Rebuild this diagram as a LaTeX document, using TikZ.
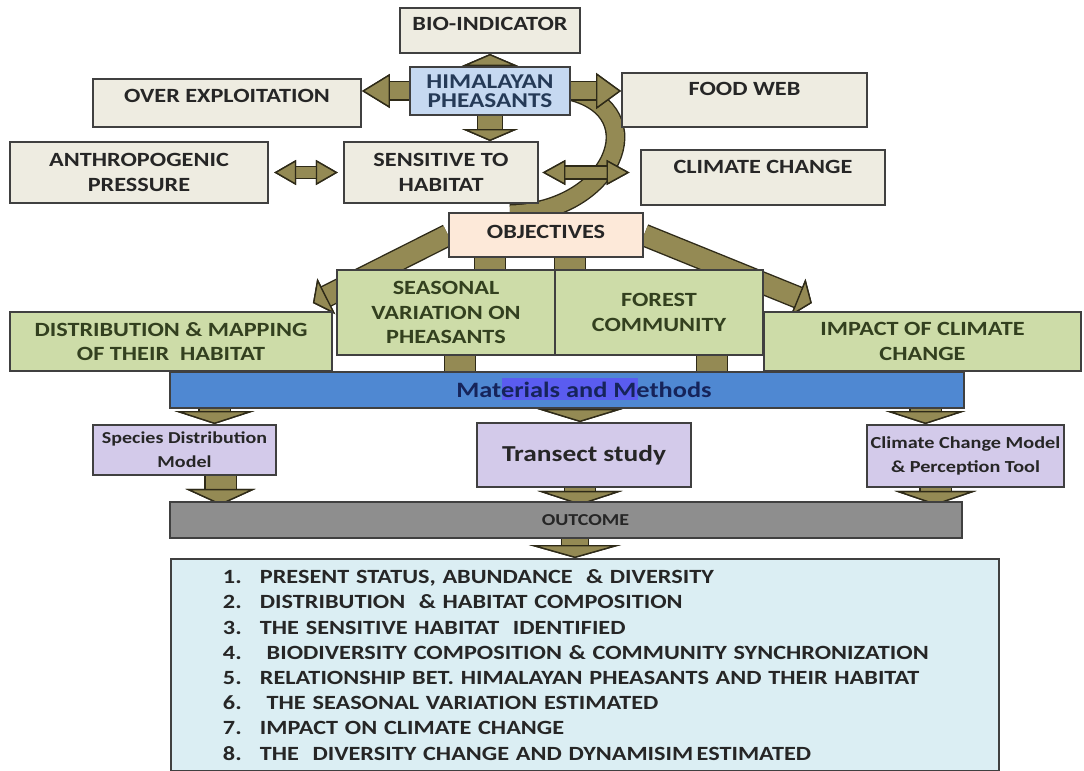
\documentclass[tikz,border=0pt]{standalone}
\usepackage{fontspec}
\setmainfont{Carlito}[FakeStretch=1.2]
\usetikzlibrary{arrows.meta,calc,backgrounds}

\definecolor{tanfill}{HTML}{EEECE1}
\definecolor{boxline}{HTML}{404040}
\definecolor{ink}{HTML}{262626}
\definecolor{hpfill}{HTML}{C6D9F1}
\definecolor{hpink}{HTML}{253A57}
\definecolor{objfill}{HTML}{FDE9D9}
\definecolor{grnfill}{HTML}{CDDCA8}
\definecolor{grnink}{HTML}{33401F}
\definecolor{mmfill}{HTML}{4F88D2}
\definecolor{mmink}{HTML}{16245A}
\definecolor{hilite}{HTML}{5A5CF0}
\definecolor{lavfill}{HTML}{D3CAEA}
\definecolor{outfill}{HTML}{8E8E8E}
\definecolor{listfill}{HTML}{DBEEF3}
\definecolor{olivefill}{HTML}{948A54}
\definecolor{oliveline}{HTML}{2E2A18}

\tikzset{
  box/.style={draw=boxline, line width=1.1pt, fill=tanfill, text=ink, align=center,
    inner sep=1pt, font=\bfseries\fontsize{11.5}{14}\selectfont},
  pipe/.style={draw=olivefill, line width=#1,
    preaction={draw=oliveline, line width=#1+1.6pt}},
  ahead/.style 2 args={-{Triangle[width=#1, length=#2, fill=olivefill,
    color=oliveline, line width=0.8pt]}},
  bhead/.style 2 args={{Triangle[width=#1, length=#2, fill=olivefill,
    color=oliveline, line width=0.8pt]}-{Triangle[width=#1, length=#2,
    fill=olivefill, color=oliveline, line width=0.8pt]}},
}

\begin{document}
\begin{tikzpicture}[x=0.02cm, y=-0.02cm]
\useasboundingbox (0,0) rectangle (1084,770);

% top cluster
\node[box, minimum width=3.6cm, minimum height=0.9cm, text depth=0.28cm] (bio) at (490,30.5) {BIO-INDICATOR};
\node[box, fill=hpfill, text=hpink, minimum width=3.2cm, minimum height=0.96cm,
  font=\bfseries\fontsize{12}{11}\selectfont] (hp) at (490,91) {HIMALAYAN\\PHEASANTS};
\node[box, minimum width=5.36cm, minimum height=0.96cm, text depth=0.28cm] (over) at (227,103) {OVER EXPLOITATION};
\node[box, minimum width=4.9cm, minimum height=1.08cm, text depth=0.44cm] (food) at (744.5,100) {FOOD WEB};
\node[box, minimum width=5.16cm, minimum height=1.22cm] (anthro) at (139,172.5) {ANTHROPOGENIC\\PRESSURE};
\node[box, minimum width=3.88cm, minimum height=1.22cm] (sens) at (441,172.5) {SENSITIVE TO\\HABITAT};
\node[box, minimum width=4.88cm, minimum height=1.1cm, text depth=0.42cm] (clim) at (763,177.5) {CLIMATE CHANGE};

% objectives
\node[box, fill=objfill, minimum width=3.88cm, minimum height=0.88cm, text depth=0.12cm] (obj) at (546,235) {OBJECTIVES};
\node[box, fill=grnfill, text=grnink, minimum width=4.36cm, minimum height=1.7cm] (seas) at (446,312.5) {SEASONAL\\VARIATION ON\\PHEASANTS};
\node[box, fill=grnfill, text=grnink, minimum width=4.16cm, minimum height=1.7cm] (forest) at (659,312.5) {FOREST\\COMMUNITY};
\node[box, fill=grnfill, text=grnink, minimum width=6.44cm, minimum height=1.18cm] (dist) at (171,341.5) {DISTRIBUTION \& MAPPING\\OF THEIR~~HABITAT};
\node[box, fill=grnfill, text=grnink, minimum width=6.35cm, minimum height=1.18cm] (impact) at (922.5,341.5) {IMPACT OF CLIMATE\\CHANGE};

% methods
\node[box, fill=mmfill, text=mmink, minimum width=15.88cm, minimum height=0.72cm,
  font=\bfseries\fontsize{12.5}{14}\selectfont,
  path picture={\fill[hilite] ($(path picture bounding box.west)+(332,-12)$) rectangle ($(path picture bounding box.west)+(468,10)$);}]
  (mm) at (567,390) {\hspace*{0.68cm}Materials and Methods};
\node[box, fill=lavfill, minimum width=3.66cm, minimum height=1.0cm,
  font=\bfseries\fontsize{9.5}{13.5}\selectfont] (sdm) at (184.5,450) {Species Distribution\\Model};
\node[box, fill=lavfill, minimum width=4.28cm, minimum height=1.28cm,
  font=\bfseries\fontsize{13}{15}\selectfont] (tr) at (584,455) {Transect study};
\node[box, fill=lavfill, minimum width=3.94cm, minimum height=1.24cm,
  font=\bfseries\fontsize{9.6}{13.5}\selectfont] (ccm) at (965.5,456) {Climate Change Model\\\& Perception Tool};

% outcome
\node[box, fill=outfill, minimum width=15.84cm, minimum height=0.72cm,
  font=\bfseries\fontsize{9.5}{11}\selectfont] (out) at (566,520) {\hspace*{0.78cm}OUTCOME};
\node[box, fill=listfill, anchor=north west, minimum width=16.56cm, minimum height=4.24cm,
  text width=14.48cm, align=left, font=\bfseries\fontsize{11.5}{14.35}\selectfont] (res) at (170,558) {%
  \makebox[0.74cm][l]{1.}PRESENT STATUS, ABUNDANCE~ \& DIVERSITY\\
  \makebox[0.74cm][l]{2.}DISTRIBUTION~ \& HABITAT COMPOSITION\\
  \makebox[0.74cm][l]{3.}THE SENSITIVE HABITAT~ IDENTIFIED\\
  \makebox[0.74cm][l]{4.}~BIODIVERSITY COMPOSITION \& COMMUNITY SYNCHRONIZATION\\
  \makebox[0.74cm][l]{5.}RELATIONSHIP BET. HIMALAYAN PHEASANTS AND THEIR HABITAT\\
  \makebox[0.74cm][l]{6.}~THE SEASONAL VARIATION ESTIMATED\\
  \makebox[0.74cm][l]{7.}IMPACT ON CLIMATE CHANGE\\
  \makebox[0.74cm][l]{8.}THE~ DIVERSITY CHANGE AND DYNAMISIM\,ESTIMATED};

% block arrows behind the boxes
\begin{scope}[on background layer]
\draw[pipe=0.34cm] ($(obj.north)+(-36,2)$) .. controls (612,212) and (655,112) .. (hp.east);
\draw[pipe=0.48cm, ahead={1.12cm}{0.24cm}] (hp.north) -- (bio.south);
\draw[pipe=0.34cm, ahead={0.68cm}{0.56cm}] (hp.west) -- (hp.west -| over.east);
\draw[pipe=0.34cm, ahead={0.72cm}{0.5cm}] (hp.east) -- (hp.east -| food.west);
\draw[pipe=0.48cm, ahead={1.12cm}{0.24cm}] (hp.south) -- (hp.south |- sens.north);
\draw[pipe=0.22cm, bhead={0.5cm}{0.44cm}, shorten <=3pt, shorten >=3pt] (anthro.east) -- (sens.west);
\draw[pipe=0.24cm, bhead={0.5cm}{0.46cm}, shorten <=2pt, shorten >=6pt] (sens.east) -- (sens.east -| clim.west);

\draw[pipe=0.4cm, ahead={0.8cm}{0.3cm}] (obj.west) -- ($(dist.north east)+(-20,-8)$);
\draw[pipe=0.4cm, ahead={0.8cm}{0.3cm}] (obj.east) -- ($(impact.north west)+(49,-8)$);
\draw[pipe=0.6cm] ($(obj.south)+(-56,0)$) -- ($(seas.north)+(44,0)$);
\draw[pipe=0.6cm] ($(obj.south)+(24,0)$) -- ($(forest.north)+(-89,0)$);
\draw[pipe=0.6cm] ($(seas.south)+(14,0)$) -- ($(mm.north)+(-107,0)$);
\draw[pipe=0.6cm] ($(forest.south)+(53,0)$) -- ($(mm.north)+(145,0)$);

\draw[pipe=0.6cm, ahead={1.6cm}{0.26cm}] ($(sdm.north)+(30,-17)$) -- ($(sdm.north)+(30,0)$);
\draw[pipe=0.6cm, ahead={1.7cm}{0.26cm}] ($(tr.north)+(-4,-15)$) -- ($(tr.north)+(-4,0)$);
\draw[pipe=0.6cm, ahead={1.6cm}{0.26cm}] ($(ccm.north)+(-40,-17)$) -- ($(ccm.north)+(-40,0)$);
\draw[pipe=0.6cm, ahead={1.4cm}{0.32cm}] ($(sdm.south)+(36,0)$) -- ($(sdm.south)+(36,29)$);
\draw[pipe=0.6cm, ahead={1.7cm}{0.28cm}] ($(tr.south)+(-4,0)$) -- ($(tr.south)+(-4,17)$);
\draw[pipe=0.6cm, ahead={1.64cm}{0.28cm}] ($(ccm.south)+(-30,0)$) -- ($(ccm.south)+(-30,17)$);
\draw[pipe=0.52cm, ahead={1.84cm}{0.26cm}] ($(out.south)+(9,0)$) -- (res.north -| {$(out.south)+(9,0)$});
\end{scope}

\end{tikzpicture}
\end{document}
